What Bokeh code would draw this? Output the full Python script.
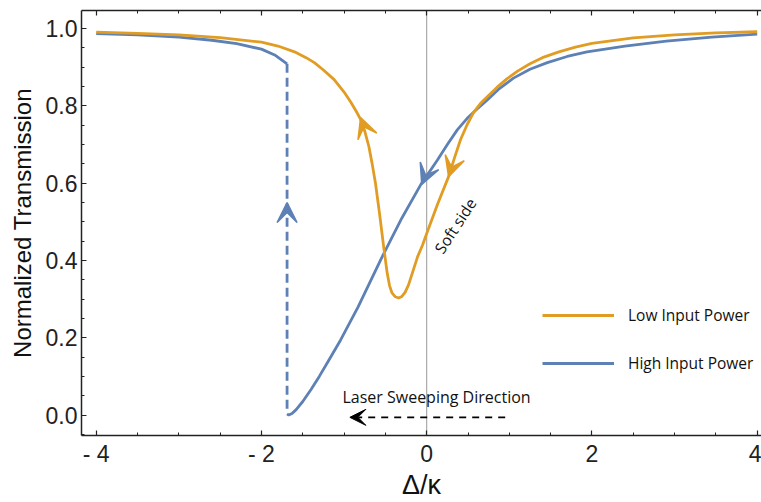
from bokeh.plotting import figure
from bokeh.models import (Range1d, LinearAxis, SingleIntervalTicker, PrintfTickFormatter,
                          CustomJSTickFormatter, Span, Label, Arrow, VeeHead, Legend, LegendItem)
from bokeh.embed import file_html
from bokeh.resources import INLINE

# ---- data ----
low_x = [-4.0, -3.5, -3.0, -2.5, -2.0, -1.8, -1.6, -1.46, -1.36, -1.25, -1.12, -1.0, -0.92,
         -0.85, -0.80, -0.75, -0.70, -0.66, -0.62, -0.57, -0.52, -0.48, -0.45, -0.42, -0.38,
         -0.34, -0.30, -0.26, -0.22, -0.17, -0.11, -0.05, 0.0, 0.13, 0.265, 0.34, 0.41, 0.49,
         0.57, 0.65, 0.73, 0.85, 0.97, 1.1, 1.25, 1.4, 1.6, 1.8, 2.0, 2.5, 3.0, 3.5, 4.0]
low_y = [0.991, 0.988, 0.984, 0.977, 0.965, 0.955, 0.94, 0.925, 0.912, 0.893, 0.868, 0.836, 0.81,
         0.785, 0.765, 0.735, 0.695, 0.65, 0.60, 0.52, 0.434, 0.37, 0.335, 0.316, 0.306,
         0.303, 0.307, 0.318, 0.337, 0.37, 0.41, 0.44, 0.47, 0.545, 0.617, 0.668, 0.713, 0.752,
         0.784, 0.806, 0.823, 0.848, 0.87, 0.89, 0.909, 0.925, 0.94, 0.952, 0.962, 0.976, 0.984,
         0.989, 0.992]

high_up_x = [-4.0, -3.5, -3.0, -2.6, -2.3, -2.0, -1.84, -1.69]
high_up_y = [0.987, 0.984, 0.978, 0.97, 0.961, 0.947, 0.932, 0.909]

high_lo_x = [-1.69, -1.67, -1.63, -1.58, -1.5, -1.4, -1.3, -1.19, -1.04, -0.83, -0.55, -0.3,
             -0.07, 0.13, 0.25, 0.37, 0.49, 0.61, 0.73, 0.88, 1.05, 1.25, 1.46, 1.7, 1.94, 2.4,
             2.9, 3.45, 4.0]
high_lo_y = [0.003, 0.0, 0.004, 0.014, 0.035, 0.066, 0.1, 0.14, 0.195, 0.28, 0.405, 0.51,
             0.597, 0.66, 0.70, 0.738, 0.768, 0.792, 0.815, 0.845, 0.872, 0.895, 0.912, 0.928,
             0.94, 0.955, 0.968, 0.978, 0.986]

jump_x = [-1.69, -1.69]
jump_y = [0.909, 0.003]

x_ticks_labels = {-4: "- 4", -2: "- 2", 0: "0", 2: "2", 4: "4"}

ORANGE = "#E19C24"
BLUE = "#5E81B5"
TICK_FONT = "Liberation Sans"
ANN_FONT = "Open Sans"

p = figure(width=761, height=502, x_range=Range1d(-4.178, 4.052), y_range=Range1d(-0.053, 1.047),
           output_backend="svg", toolbar_location=None,
           min_border_left=81, min_border_right=0, min_border_top=10, min_border_bottom=67,
           x_axis_location=None, y_axis_location=None)
p.grid.visible = False
p.outline_line_color = None
p.background_fill_color = "white"


def style_axis(ax):
    ax.axis_line_color = "#222222"
    ax.axis_line_width = 1.5
    ax.major_tick_line_color = "#222222"
    ax.minor_tick_line_color = "#222222"
    ax.major_tick_line_width = 1.2
    ax.minor_tick_line_width = 1.0
    ax.major_tick_in = 5
    ax.major_tick_out = 0
    ax.minor_tick_in = 3
    ax.minor_tick_out = 0
    ax.major_label_text_font = TICK_FONT
    ax.major_label_text_color = "#222222"
    ax.major_label_text_font_size = "23px"
    ax.axis_label_text_font = TICK_FONT
    ax.axis_label_text_font_style = "normal"
    ax.axis_label_text_color = "#111111"


xb = LinearAxis(ticker=SingleIntervalTicker(interval=2, num_minor_ticks=4))
style_axis(xb)
xb.major_label_overrides = x_ticks_labels
xb.major_label_standoff = 5
xb.axis_label = "Δ/κ"
xb.axis_label_text_font_size = "27px"
xb.axis_label_standoff = 0
p.add_layout(xb, "below")

# top frame edge with ticks only
xt = LinearAxis(ticker=SingleIntervalTicker(interval=2, num_minor_ticks=4),
                formatter=CustomJSTickFormatter(code="return ''"))
style_axis(xt)
xt.major_label_standoff = 0
p.add_layout(xt, "above")

yl = LinearAxis(ticker=SingleIntervalTicker(interval=0.2, num_minor_ticks=4),
                formatter=PrintfTickFormatter(format="%.1f"))
style_axis(yl)
yl.major_label_standoff = 4
yl.axis_label = "Normalized Transmission"
yl.axis_label_text_font_size = "24px"
yl.axis_label_standoff = 7
p.add_layout(yl, "left")

# vertical line at zero detuning
p.add_layout(Span(location=0, dimension="height", line_color="#9a9a9a", line_width=1, level="underlay"))

# curves
r_high = p.line(high_lo_x, high_lo_y, line_color=BLUE, line_width=2.8)
p.line(high_up_x, high_up_y, line_color=BLUE, line_width=2.8)
p.line(jump_x, jump_y, line_color=BLUE, line_width=2.8, line_dash="9 5")
r_low = p.line(low_x, low_y, line_color=ORANGE, line_width=2.8)

# arrow heads on curves
def head(x0, y0, x1, y1, color):
    p.add_layout(Arrow(x_start=x0, y_start=y0, x_end=x1, y_end=y1, line_alpha=0,
                       end=VeeHead(size=20, fill_color=color, line_color=color, line_width=1.5)))

head(-0.704, 0.713, -0.80, 0.77, ORANGE)
head(0.41, 0.713, 0.265, 0.617, ORANGE)
head(0.25, 0.755, -0.06, 0.597, BLUE)
head(-1.69, 0.45, -1.69, 0.55, BLUE)

# sweep direction arrow
p.add_layout(Arrow(x_start=0.95, y_start=-0.006, x_end=-0.93, y_end=-0.006,
                   line_color="black", line_width=1.6, line_dash="7 6",
                   end=VeeHead(size=16, fill_color="black", line_color="black")))
p.add_layout(Label(x=-1.02, y=0.046, text="Laser Sweeping Direction", text_font=ANN_FONT,
                   text_font_size="16px", text_color="#111111", text_baseline="middle"))
p.add_layout(Label(x=0.345, y=0.49, text="Soft side", text_font=ANN_FONT, angle=57, angle_units="deg",
                   text_font_size="15.5px", text_color="#111111", text_align="center",
                   text_baseline="middle"))

legend = Legend(items=[LegendItem(label="Low Input Power", renderers=[r_low]),
                       LegendItem(label="High Input Power", renderers=[r_high])],
                location=(461, 61), padding=0, margin=0, spacing=26,
                glyph_width=72, glyph_height=20, label_height=20, label_standoff=14,
                label_text_font=ANN_FONT, label_text_font_size="15.5px", label_text_color="#111111",
                background_fill_alpha=0, border_line_color=None)
p.add_layout(legend)

open("out.html", "w").write(file_html(p, INLINE))
